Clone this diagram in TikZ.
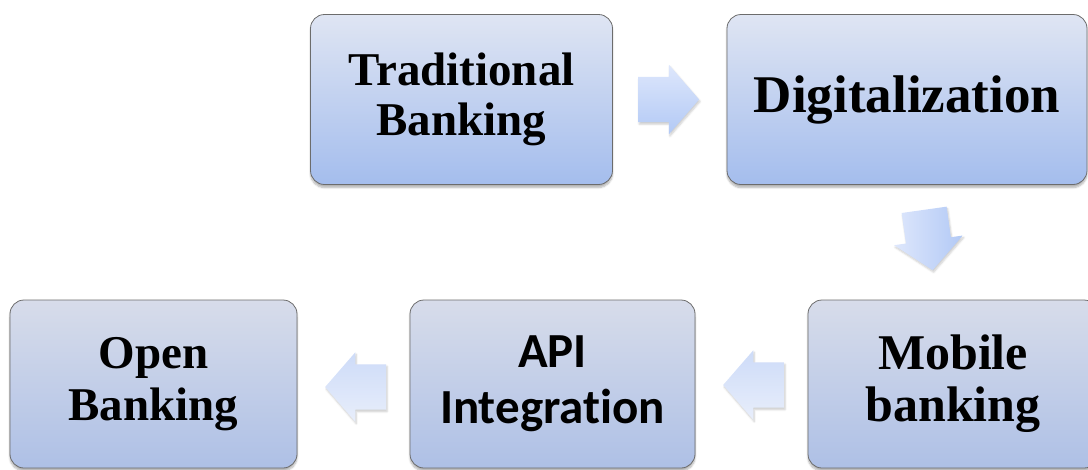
\documentclass[tikz,border=0pt]{standalone}
\usepackage{fontspec}
\setmainfont{Liberation Serif}
\newfontfamily\apifont[Ligatures=NoCommon, RawFeature=-liga]{Carlito}
\usetikzlibrary{shapes.arrows, positioning, calc, shadows.blur}

\definecolor{boxtop}{RGB}{223,229,243}
\definecolor{boxbot}{RGB}{164,189,237}
\definecolor{lowtop}{RGB}{215,220,234}
\definecolor{lowbot}{RGB}{174,192,230}
\definecolor{arrtop}{RGB}{222,231,252}
\definecolor{arrbot}{RGB}{178,201,245}
\definecolor{larrtop}{RGB}{232,238,251}
\definecolor{larrbot}{RGB}{205,219,248}

\begin{document}
\begin{tikzpicture}[x=1pt, y=-1pt,
    stage/.style={draw=gray!85!black, line width=0.8pt, rounded corners=14pt,
        top color=boxtop, bottom color=boxbot, align=center, inner sep=0pt,
        blur shadow={shadow xshift=0pt, shadow yshift=-3pt, shadow blur steps=6, shadow opacity=30}},
    lowstage/.style={stage, top color=lowtop, bottom color=lowbot},
    flow/.style={single arrow, draw=none, inner xsep=0pt, inner ysep=22.5pt, minimum height=61pt,
        single arrow head extend=12pt, single arrow tip angle=98,
        blur shadow={shadow xshift=1pt, shadow yshift=-2pt, shadow blur steps=5, shadow opacity=20}}]

    \useasboundingbox (0,0) rectangle (1088,469);
    \clip (0,0) rectangle (1088,469);

    % Stages
    \node [stage, minimum width=302pt, minimum height=170pt,
        font=\fontsize{47}{50}\selectfont\bfseries] (trad) at (461.5,99.5) {Traditional\\ Banking};
    \node [stage, minimum width=360pt, minimum height=170pt,
        font=\fontsize{53}{55}\selectfont\bfseries] (digi) at (907,99.5) {Digitalization};
    \node [lowstage, minimum width=290pt, minimum height=168pt,
        font=\fontsize{50}{52}\selectfont\bfseries] (mobile) at (953,384) {Mobile\\ banking};
    \node [lowstage, minimum width=285pt, minimum height=168pt,
        font=\apifont\fontsize{49}{56}\selectfont\bfseries] (api) at (552.5,384) {API\\ Integration};
    \node [lowstage, minimum width=287pt, minimum height=168pt,
        font=\fontsize{47}{52}\selectfont\bfseries] (open) at (153.5,384) {Open\\ Banking};

    % Arrows
    \node [flow, top color=arrtop, bottom color=arrbot] (a1)
        at ($(trad.east)!0.5!(digi.west)+(-11,0)$) {};
    \node [flow, rotate=-82, left color=arrtop, right color=arrbot] (a2)
        at ($(digi.south)!0.5!(mobile.north)+(-3,-12)$) {};
    \node [flow, rotate=180, top color=larrbot, bottom color=larrtop] (a3)
        at ($(mobile.west)!0.5!(api.east)+(12,1)$) {};
    \node [flow, rotate=180, top color=larrbot, bottom color=larrtop] (a4)
        at ($(api.west)!0.5!(open.east)+(12,3)$) {};
\end{tikzpicture}
\end{document}
